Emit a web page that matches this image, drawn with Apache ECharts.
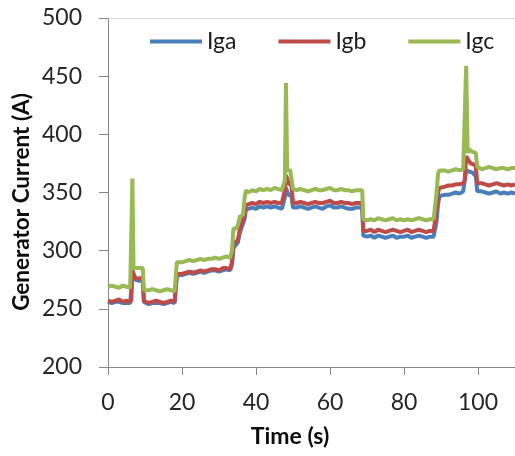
<!DOCTYPE html>
<html>
<head>
<meta charset="utf-8">
<script src="https://cdn.jsdelivr.net/npm/echarts@6/dist/echarts.min.js"></script>
<style>
  html, body { margin: 0; padding: 0; background: #fff; }
  #chart { width: 515px; height: 456px; }
</style>
</head>
<body>
<div id="chart"></div>
<script>
// Sample times (s)
const time = [
  0, 1, 2, 3, 4, 5, 6, 6.3,
  6.6, 6.9, 7.5, 8, 8.5, 9, 9.4,
  9.7, 10, 11, 12, 13, 14, 15, 16, 17, 18,
  18.3, 18.6, 19, 20, 21, 22, 23, 24, 25, 26, 27, 28, 29, 30, 31, 32, 33,
  33.5, 33.9, 34.3, 34.7, 35.1, 35.6, 36, 36.5, 36.9, 37.3, 37.8,
  38, 39, 40, 41, 42, 43, 44, 45, 46, 47, 47.5,
  47.8, 48.1, 48.4, 48.8, 49.2, 49.6, 50,
  51, 52, 53, 54, 55, 56, 57, 58, 59, 60, 61, 62, 63, 64, 65, 66, 67, 68, 68.7,
  69, 70, 71, 72, 73, 74, 75, 76, 77, 78, 79, 80, 81, 82, 83, 84, 85, 86, 87, 88,
  88.4, 88.8, 89.2, 89.6, 90,
  91, 92, 93, 94, 95, 96,
  96.4, 96.8, 97.2, 97.6, 98, 98.5, 99, 99.4, 99.8,
  100, 101, 102, 103, 104, 105, 106, 107, 108, 109, 110
];

// Phase currents (A)
const iga = [
  256, 255, 256, 256, 255, 255, 255, 256,
  279, 278, 275, 275, 274, 275, 275,
  256, 255, 254, 255, 255, 255, 254, 255, 256, 255,
  255, 279, 279, 279, 280, 281, 280, 281, 282, 281, 282, 283, 283, 282, 283, 284, 283,
  288, 302, 304, 305, 307, 315, 319, 320, 327, 336, 337,
  336, 337, 336, 338, 337, 338, 337, 338, 337, 336, 336,
  346, 354, 351, 348, 347, 347, 337,
  337, 338, 337, 336, 337, 338, 337, 336, 338, 339, 337, 337, 338, 337, 336, 336, 337, 337, 337,
  313, 312, 313, 311, 313, 312, 311, 312, 313, 311, 312, 312, 313, 311, 312, 313, 312, 311, 312, 312,
  312, 325, 340, 347, 348,
  348, 348, 349, 350, 349, 351,
  352, 369, 368, 368, 367, 367, 366, 364, 351,
  350, 351, 350, 349, 350, 351, 349, 350, 349, 350, 349
];

const igb = [
  257, 256, 257, 258, 256, 257, 256, 258,
  283, 280, 276, 277, 276, 276, 277,
  257, 256, 255, 256, 257, 256, 255, 256, 257, 256,
  256, 280, 281, 280, 281, 282, 281, 282, 283, 282, 283, 284, 284, 283, 285, 285, 284,
  290, 305, 307, 307, 309, 318, 322, 323, 330, 339, 340,
  340, 341, 340, 342, 341, 342, 341, 342, 341, 341, 340,
  352, 365, 362, 358, 357, 356, 341,
  341, 342, 341, 340, 341, 342, 341, 341, 342, 343, 341, 341, 342, 341, 341, 340, 341, 341, 341,
  317, 317, 318, 316, 318, 317, 316, 317, 318, 317, 316, 317, 318, 316, 317, 318, 317, 316, 317, 317,
  317, 335, 350, 354, 355,
  355, 356, 356, 357, 357, 358,
  360, 381, 379, 377, 375, 375, 374, 372, 358,
  357, 358, 357, 356, 357, 358, 357, 356, 357, 356, 357
];

const igc = [
  269, 270, 269, 268, 270, 269, 268, 269,
  362, 285, 285, 284, 285, 284, 285,
  266, 265, 266, 267, 266, 265, 266, 267, 266, 265,
  266, 290, 291, 290, 291, 292, 291, 292, 293, 292, 293, 293, 294, 293, 294, 295, 294,
  300, 319, 320, 319, 322, 329, 330, 331, 345, 352, 350,
  351, 352, 351, 353, 352, 353, 352, 354, 353, 352, 351,
  360, 444, 372, 368, 370, 369, 353,
  352, 353, 352, 351, 352, 353, 352, 352, 353, 354, 352, 352, 353, 352, 352, 351, 352, 352, 352,
  327, 326, 327, 326, 328, 327, 326, 327, 328, 326, 327, 326, 327, 326, 327, 328, 327, 326, 327, 327,
  328, 350, 366, 369, 368,
  369, 368, 369, 370, 369, 370,
  371, 459, 384, 387, 386, 385, 386, 384, 372,
  371, 370, 371, 372, 371, 370, 371, 371, 370, 371, 371
];

const seriesNames = ['Iga', 'Igb', 'Igc'];
const seriesColors = ['#4a7ebb', '#be4b48', '#98b954'];
const seriesValues = [iga, igb, igc];

const FONT = 'Lato, "Open Sans", sans-serif';
const AXIS_GREY = '#868686';

const chart = echarts.init(document.getElementById('chart'), null, { renderer: 'canvas' });

chart.setOption({
  animation: false,
  backgroundColor: '#ffffff',
  grid: { left: 108, top: 18, width: 409, height: 349, containLabel: false },
  legend: {
    left: 145,
    top: 25,
    itemWidth: 52,
    itemHeight: 4,
    itemGap: 42,
    icon: 'rect',
    textStyle: { fontFamily: FONT, fontSize: 23, color: '#1a1a1a' },
    data: seriesNames
  },
  xAxis: [
    {
      type: 'value',
      min: 0,
      max: 110,
      interval: 20,
      axisLine: { show: true, lineStyle: { color: AXIS_GREY, width: 1 } },
      axisTick: { show: true, length: 8, lineStyle: { color: AXIS_GREY } },
      splitLine: { show: false },
      axisLabel: {
        fontFamily: FONT, fontSize: 23, color: '#262626', margin: 24,
        showMaxLabel: false
      }
    },
    {
      type: 'value',
      position: 'top',
      min: 0,
      max: 110,
      axisLine: { show: true, lineStyle: { color: '#d9d9d9', width: 1 } },
      axisTick: { show: false },
      axisLabel: { show: false },
      splitLine: { show: false }
    }
  ],
  yAxis: {
    type: 'value',
    min: 200,
    max: 500,
    interval: 50,
    axisLine: { show: true, lineStyle: { color: AXIS_GREY, width: 1 } },
    axisTick: { show: true, length: 9, lineStyle: { color: AXIS_GREY } },
    splitLine: { show: false },
    axisLabel: { fontFamily: FONT, fontSize: 23, color: '#262626', margin: 26 }
  },
  graphic: [
    {
      type: 'text',
      x: 22, y: 202,
      rotation: Math.PI / 2,
      style: {
        text: 'Generator Current (A)',
        fontFamily: FONT, fontSize: 22.5, fontWeight: 'bold',
        fill: '#0d0d0d', align: 'center', verticalAlign: 'middle'
      }
    },
    {
      type: 'text',
      x: 290, y: 437,
      style: {
        text: 'Time (s)',
        fontFamily: FONT, fontSize: 23, fontWeight: 'bold',
        fill: '#0d0d0d', align: 'center', verticalAlign: 'middle'
      }
    }
  ],
  series: seriesNames.map((name, i) => ({
    name: name,
    type: 'line',
    xAxisIndex: 0,
    showSymbol: false,
    symbol: 'none',
    clip: true,
    color: seriesColors[i],
    lineStyle: { width: 4, color: seriesColors[i] },
    data: time.map((t, k) => [t, seriesValues[i][k]])
  }))
});
</script>
</body>
</html>
